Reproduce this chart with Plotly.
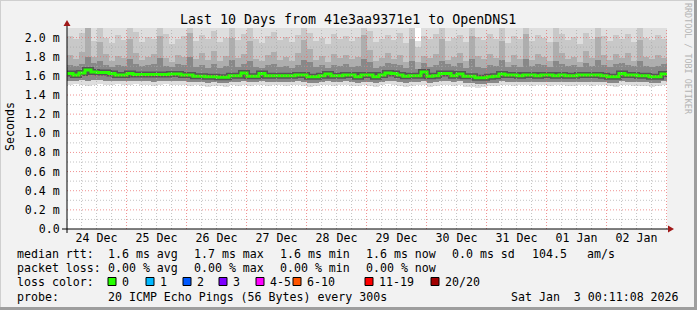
import plotly.graph_objects as go
import pandas as pd

# ---------------- data ----------------
start = pd.Timestamp("2025-12-24 00:11:08")
end = pd.Timestamp("2026-01-03 00:11:08")
N_STEPS = 100
step = (end - start) / N_STEPS

median = [
1.625,1.61,1.63,1.66,1.64,1.635,1.635,1.625,1.61,1.61,
1.625,1.615,1.615,1.615,1.615,1.615,1.615,1.62,1.62,1.61,
1.61,1.595,1.595,1.59,1.59,1.585,1.585,1.60,1.60,1.63,
1.595,1.595,1.625,1.60,1.60,1.60,1.60,1.60,1.61,1.61,
1.59,1.59,1.60,1.62,1.60,1.60,1.61,1.61,1.59,1.61,
1.61,1.59,1.61,1.63,1.625,1.61,1.595,1.60,1.60,1.64,
1.595,1.60,1.625,1.625,1.60,1.62,1.595,1.595,1.58,1.58,
1.59,1.595,1.62,1.61,1.61,1.60,1.61,1.61,1.60,1.61,
1.61,1.60,1.61,1.60,1.60,1.61,1.61,1.61,1.61,1.60,
1.59,1.59,1.625,1.61,1.61,1.60,1.60,1.59,1.59,1.62]

smoke_lo = [
1.50,1.51,1.50,1.49,1.50,1.51,1.50,1.50,1.51,1.50,
1.50,1.51,1.50,1.50,1.49,1.50,1.51,1.50,1.50,1.50,
1.49,1.50,1.49,1.48,1.49,1.49,1.48,1.50,1.49,1.50,
1.49,1.50,1.50,1.49,1.50,1.50,1.49,1.50,1.50,1.49,
1.48,1.49,1.50,1.50,1.49,1.50,1.50,1.49,1.49,1.50,
1.49,1.48,1.50,1.51,1.50,1.49,1.48,1.49,1.50,1.50,
1.48,1.49,1.50,1.50,1.49,1.50,1.48,1.48,1.47,1.48,
1.49,1.49,1.50,1.50,1.49,1.50,1.50,1.49,1.50,1.50,
1.49,1.50,1.50,1.49,1.49,1.50,1.50,1.49,1.50,1.50,
1.49,1.48,1.50,1.50,1.49,1.49,1.49,1.48,1.49,1.50]

smoke_lo_in = [
1.55,1.55,1.56,1.55,1.56,1.56,1.55,1.55,1.55,1.55,
1.55,1.55,1.55,1.55,1.54,1.55,1.55,1.55,1.55,1.55,
1.54,1.54,1.54,1.53,1.54,1.53,1.53,1.54,1.54,1.55,
1.54,1.54,1.55,1.54,1.54,1.54,1.54,1.54,1.55,1.54,
1.53,1.53,1.54,1.55,1.54,1.54,1.55,1.54,1.53,1.54,
1.54,1.53,1.54,1.55,1.55,1.54,1.53,1.54,1.54,1.55,
1.53,1.54,1.55,1.55,1.54,1.55,1.53,1.53,1.52,1.52,
1.53,1.53,1.55,1.54,1.54,1.54,1.54,1.54,1.54,1.54,
1.54,1.54,1.54,1.54,1.54,1.54,1.54,1.54,1.54,1.54,
1.53,1.53,1.55,1.54,1.54,1.54,1.54,1.53,1.53,1.55]

smoke_top_a = [
2.5,2.5,2.5,2.5,2.5,2.5,2.5,2.5,2.5,2.5,
2.5,2.5,2.5,2.5,2.5,2.5,2.5,2.5,2.5,2.5,
2.5,2.5,2.5,2.5,2.5,2.5,2.5,2.5,2.5,2.5,
2.5,2.5,2.5,2.5,2.5,2.5,2.5,2.5,2.5,2.5,
2.5,2.5,2.5,2.5,2.5,2.5,2.5,2.5,2.5,2.5,
2.5,2.5,2.5,2.5,2.5,2.5,2.5,2.5,1.96,2.5,
2.5,2.5,2.5,2.5,2.5,2.5,2.5,2.5,2.5,2.5,
2.5,2.5,2.5,2.5,2.5,2.5,2.5,2.5,2.5,2.5,
2.5,2.5,2.5,2.5,2.5,2.5,2.5,2.5,2.5,2.5,
2.5,2.5,2.5,2.5,2.5,2.5,2.5,2.5,2.5,2.5]

smoke_top_b = [
2.02,1.98,2.05,2.10,1.96,2.10,2.00,1.94,2.03,1.97,
2.10,2.06,1.95,2.01,1.98,2.10,2.04,1.93,1.99,2.02,
2.10,1.96,2.03,1.98,2.07,1.95,2.00,2.10,1.97,2.04,
2.10,1.99,1.94,2.02,2.06,1.97,2.01,1.95,2.03,2.10,
2.05,1.96,2.00,1.93,2.04,1.98,2.02,1.96,2.01,2.10,
2.07,1.95,1.99,2.03,1.97,2.05,1.94,2.10,1.90,2.02,
1.98,2.04,2.10,1.96,2.00,2.03,1.95,2.10,2.01,1.97,
2.04,1.99,2.10,1.94,2.02,1.98,2.10,1.96,2.03,2.00,
1.95,2.10,2.04,1.97,2.01,1.93,2.05,1.99,2.10,2.02,
1.96,2.03,1.98,2.04,1.95,2.10,2.00,1.97,2.03,1.99]

smoke_top_c = [
1.82,1.78,1.85,2.10,1.80,1.95,1.83,1.76,1.81,1.79,
1.98,1.84,1.77,1.80,1.83,2.02,1.79,1.75,1.82,1.80,
2.05,1.78,1.84,1.77,1.86,1.76,1.81,2.00,1.79,1.83,
1.96,1.78,1.76,1.82,1.85,1.77,1.80,1.76,1.84,1.97,
1.88,1.77,1.81,1.75,1.83,1.79,1.82,1.78,1.80,2.03,
1.87,1.76,1.79,1.84,1.78,1.82,1.75,1.99,1.74,1.81,
1.79,1.83,1.98,1.77,1.80,1.84,1.76,2.02,1.81,1.78,
1.83,1.79,1.96,1.75,1.82,1.78,2.04,1.77,1.83,1.80,
1.76,1.95,1.84,1.78,1.80,1.75,1.86,1.79,2.01,1.82,
1.77,1.83,1.79,1.84,1.76,1.97,1.80,1.78,1.82,1.79]

smoke_top_d = [
1.71,1.70,1.72,1.80,1.73,1.76,1.71,1.69,1.71,1.70,
1.78,1.72,1.70,1.71,1.72,1.79,1.70,1.69,1.72,1.71,
1.80,1.69,1.71,1.68,1.72,1.68,1.70,1.77,1.69,1.72,
1.76,1.69,1.68,1.71,1.72,1.69,1.70,1.68,1.71,1.77,
1.74,1.69,1.71,1.68,1.71,1.70,1.72,1.69,1.70,1.78,
1.75,1.68,1.70,1.73,1.72,1.71,1.68,1.76,1.67,1.73,
1.69,1.71,1.76,1.72,1.70,1.73,1.68,1.78,1.69,1.68,
1.71,1.70,1.77,1.69,1.71,1.69,1.78,1.70,1.72,1.71,
1.69,1.76,1.72,1.70,1.71,1.69,1.73,1.70,1.77,1.71,
1.69,1.72,1.73,1.71,1.70,1.76,1.70,1.69,1.70,1.72]

y_tick_vals = [0.0, 0.2, 0.4, 0.6, 0.8, 1.0, 1.2, 1.4, 1.6, 1.8, 2.0]
y_tick_text = ["0.0", "0.2 m", "0.4 m", "0.6 m", "0.8 m", "1.0 m", "1.2 m",
               "1.4 m", "1.6 m", "1.8 m", "2.0 m"]

title_text = "Last 10 Days from 41e3aa9371e1 to OpenDNS1"
legend_rtt = [("median rtt:", 16), ("1.6 ms avg", 107), ("1.7 ms max", 193),
              ("1.6 ms min", 279), ("1.6 ms now", 365), ("0.0 ms sd", 451),
              ("104.5", 531), ("am/s", 586)]
legend_loss = [("packet loss:", 16), ("0.00 % avg", 107), ("0.00 % max", 193),
               ("0.00 % min", 279), ("0.00 % now", 365)]
loss_labels = ["0", "1", "2", "3", "4-5", "6-10", "11-19", "20/20"]
loss_colors = ["#26ff00", "#00b8ff", "#0059ff", "#7e00ff", "#ff00ff",
               "#ff5500", "#ff0000", "#a10000"]
loss_box_x = [108, 146, 183, 219, 256, 293, 365, 431]
probe_text = "20 ICMP Echo Pings (56 Bytes) every 300s"
stamp_text = "Sat Jan  3 00:11:08 2026"

# ---------------- layout geometry (pixels) ----------------
W_FIG, H_FIG = 697, 310
L, R, T, B = 67, 667, 28, 229
PW, PH = R - L, B - T
MONO = "DejaVu Sans Mono"
BG = "#f2f2f2"

def px(x):
    return (x - L) / PW

def py(y):
    return (B - y) / PH

centers = [start + step * (i + 0.5) for i in range(N_STEPS)]
edges = [start + step * i for i in range(N_STEPS)] + [end]
bar_w = step.total_seconds() * 1000

fig = go.Figure()

layers = [
    (smoke_lo, smoke_top_a, "rgb(222,222,222)"),
    (smoke_lo_in, smoke_top_b, "rgb(200,200,200)"),
    (smoke_lo_in, smoke_top_c, "rgb(174,174,174)"),
    (smoke_lo_in, smoke_top_d, "rgb(136,136,136)"),
]
for base, top, col in layers:
    fig.add_trace(go.Bar(
        x=centers, y=[t - b for t, b in zip(top, base)], base=base,
        width=bar_w, marker=dict(color=col, line=dict(width=0)),
        hoverinfo="skip", showlegend=False))

med_ext = median + [median[-1]]
fig.add_trace(go.Scatter(x=edges, y=med_ext, mode="lines",
                         line=dict(shape="hv", color="rgb(85,85,85)", width=6),
                         hoverinfo="skip", showlegend=False))
fig.add_trace(go.Scatter(x=edges, y=med_ext, mode="lines",
                         line=dict(shape="hv", color="#26ff00", width=3),
                         hoverinfo="skip", showlegend=False))

shapes = []
# grid on top of data (rrdtool style)
t = pd.Timestamp("2025-12-24 06:00")
while t < end:
    major = (t.hour == 0)
    if t > start:
        shapes.append(dict(type="line", xref="x", yref="paper", x0=t, x1=t, y0=0, y1=1,
                           layer="above",
                           line=dict(color="rgba(235,110,110,0.75)" if major else "rgba(170,170,170,0.7)",
                                     width=1, dash="1px,2px")))
    t += pd.Timedelta(hours=6)
for k in range(1, 21):
    v = k / 10
    major = (k % 2 == 0)
    shapes.append(dict(type="line", xref="paper", yref="y", x0=0, x1=1, y0=v, y1=v,
                       layer="above",
                       line=dict(color="rgba(235,110,110,0.75)" if major else "rgba(170,170,170,0.7)",
                                 width=1, dash="1px,2px")))

# axes lines and arrows
AX = "#000000"
ARROW = "#a01818"
shapes.append(dict(type="line", xref="paper", yref="paper", x0=px(62), x1=px(669),
                   y0=py(229), y1=py(229), line=dict(color=AX, width=1), layer="above"))
shapes.append(dict(type="line", xref="paper", yref="paper", x0=px(67), x1=px(67),
                   y0=py(233), y1=py(25), line=dict(color=AX, width=1), layer="above"))
shapes.append(dict(type="path", xref="paper", yref="paper",
                   path=f"M {px(668)} {py(225.5)} L {px(674)} {py(229)} L {px(668)} {py(232.5)} Z",
                   fillcolor=ARROW, line=dict(color=ARROW, width=0), layer="above"))
shapes.append(dict(type="path", xref="paper", yref="paper",
                   path=f"M {px(63.5)} {py(26)} L {px(67)} {py(20)} L {px(70.5)} {py(26)} Z",
                   fillcolor=ARROW, line=dict(color=ARROW, width=0), layer="above"))

# loss colour boxes
for bx, col in zip(loss_box_x, loss_colors):
    shapes.append(dict(type="rect", xref="paper", yref="paper",
                       x0=px(bx), x1=px(bx + 8), y0=py(277.5), y1=py(285.5),
                       fillcolor=col, line=dict(color="black", width=1)))

# frame
shapes.append(dict(type="line", xref="paper", yref="paper", x0=px(0), x1=px(697),
                   y0=py(0.5), y1=py(0.5), line=dict(color="#cfcfcf", width=1)))
shapes.append(dict(type="line", xref="paper", yref="paper", x0=px(0.5), x1=px(0.5),
                   y0=py(0), y1=py(310), line=dict(color="#cfcfcf", width=1)))
shapes.append(dict(type="line", xref="paper", yref="paper", x0=px(0), x1=px(697),
                   y0=py(308.5), y1=py(308.5), line=dict(color="#9e9e9e", width=3)))
shapes.append(dict(type="line", xref="paper", yref="paper", x0=px(695.5), x1=px(695.5),
                   y0=py(0), y1=py(310), line=dict(color="#9e9e9e", width=3)))

def nb(s):
    return s.replace(" ", "\u00a0")

def ann(text, x, y, size=11.6, xanchor="left", color="black", angle=0):
    return dict(text=nb(text), x=px(x), y=py(y), xref="paper", yref="paper",
                xanchor=xanchor, yanchor="middle", showarrow=False, textangle=angle,
                borderpad=0,
                font=dict(family=MONO, size=size, color=color))

annotations = [ann(title_text, 347.5, 19, size=13.3, xanchor="center"),
               ann("Seconds", 10, 127, xanchor="center", angle=-90),
               ann("RRDTOOL / TOBI OETIKER", 688, 59, size=8.4, xanchor="center",
                   color="#b4b4b4", angle=90)]
for txt, x in legend_rtt:
    annotations.append(ann(txt, x, 253.5))
for txt, x in legend_loss:
    annotations.append(ann(txt, x, 268))
annotations.append(ann("loss color:", 16, 282))
for bx, lab in zip(loss_box_x, loss_labels):
    annotations.append(ann(lab, bx + 13, 282))
annotations.append(ann("probe:", 16, 296.5))
annotations.append(ann(probe_text, 107, 296.5))
annotations.append(ann(stamp_text, 680, 296.5, xanchor="right"))

fig.update_layout(
    width=W_FIG, height=H_FIG,
    margin=dict(l=L, r=W_FIG - R, t=T, b=H_FIG - B, pad=0),
    paper_bgcolor=BG, plot_bgcolor="white",
    barmode="overlay", bargap=0,
    showlegend=False,
    shapes=shapes, annotations=annotations,
    font=dict(family=MONO, size=11.6, color="black"),
    xaxis=dict(type="date", range=[start, end], showgrid=False, zeroline=False,
               showline=False, dtick=86400000, tick0="2025-12-24 00:00",
               tickformat="%d %b", ticklabelmode="period", ticks="",
               tickfont=dict(family=MONO, size=11.6, color="black")),
    yaxis=dict(range=[0, 2.1], showgrid=False, zeroline=False, showline=False,
               tickvals=y_tick_vals, ticktext=y_tick_text,
               ticks="outside", ticklen=4, tickcolor="rgba(0,0,0,0)",
               tickfont=dict(family=MONO, size=11.6, color="black")),
)

fig.write_html("out.html", config={"displayModeBar": False})
